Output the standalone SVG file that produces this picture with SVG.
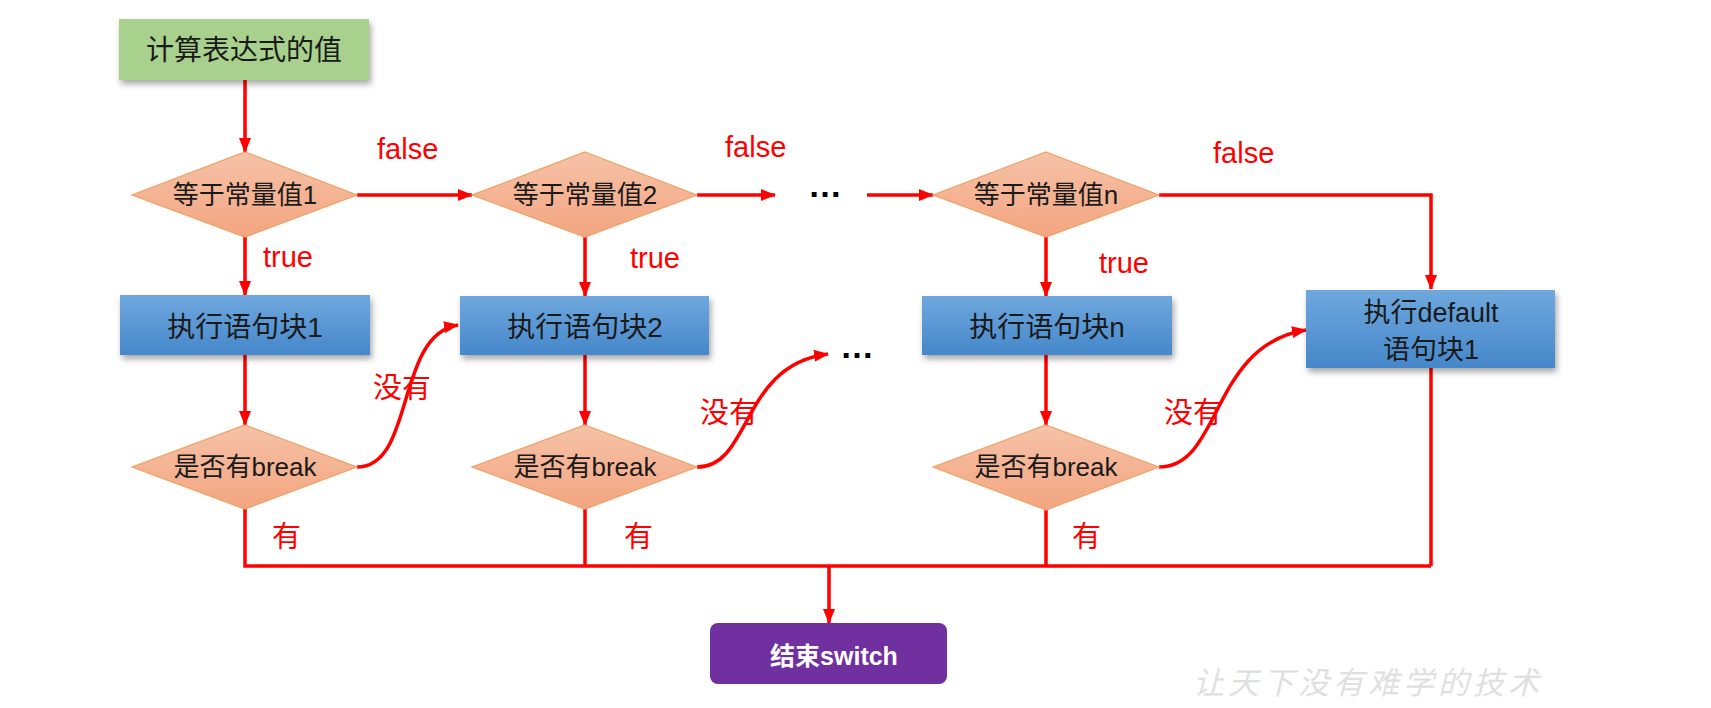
<svg xmlns="http://www.w3.org/2000/svg" width="1711" height="708" viewBox="0 0 1711 708">
<style>
.t{font-family:"Liberation Sans","Noto Sans CJK SC",sans-serif;fill:#1a1a1a;text-anchor:middle}
.lbl{font-family:"Liberation Sans","Noto Sans CJK SC",sans-serif;fill:#ff0000;font-size:29px}
.ln{fill:none;stroke:#ff0000;stroke-width:3.5}
.dia{fill:url(#gD);stroke:#f0a060;stroke-width:1.2}
.blk{fill:url(#gB);filter:url(#sh)}
.dots{font-family:"Liberation Sans",sans-serif;font-size:34px;font-weight:bold;fill:#000;text-anchor:middle}
</style>
<defs>
<linearGradient id="gD" x1="0" y1="0" x2="0" y2="1"><stop offset="0" stop-color="#f6c2a8"/><stop offset="1" stop-color="#f3a580"/></linearGradient>
<linearGradient id="gB" x1="0" y1="0" x2="0" y2="1"><stop offset="0" stop-color="#6fa8de"/><stop offset="1" stop-color="#4587ca"/></linearGradient>
<filter id="sh" x="-10%" y="-20%" width="125%" height="160%"><feDropShadow dx="2" dy="4" stdDeviation="3" flood-color="#000" flood-opacity="0.35"/></filter>
<marker id="ah" viewBox="0 0 15 12" refX="14" refY="6" markerWidth="15" markerHeight="12" markerUnits="userSpaceOnUse" orient="auto"><path d="M0,0 L15,6 L0,12 Z" fill="#ff0000"/></marker>
</defs>

<g id="connectors">
<path class="ln" d="M245,80 V152" marker-end="url(#ah)"/>
<path class="ln" d="M245,237 V295" marker-end="url(#ah)"/>
<path class="ln" d="M245,355 V425" marker-end="url(#ah)"/>
<path class="ln" d="M245,509 V566 H1431"/>
<path class="ln" d="M585,237 V296" marker-end="url(#ah)"/>
<path class="ln" d="M585,355 V425" marker-end="url(#ah)"/>
<path class="ln" d="M585,509 V566"/>
<path class="ln" d="M1046,237 V296" marker-end="url(#ah)"/>
<path class="ln" d="M1046,355 V425" marker-end="url(#ah)"/>
<path class="ln" d="M1046,510 V566"/>
<path class="ln" d="M1431,368 V566"/>
<path class="ln" d="M829,566 V623" marker-end="url(#ah)"/>
<path class="ln" d="M357,195 H472" marker-end="url(#ah)"/>
<path class="ln" d="M697,195 H775" marker-end="url(#ah)"/>
<path class="ln" d="M867,195 H933" marker-end="url(#ah)"/>
<path class="ln" d="M1159,195 H1431 V289" marker-end="url(#ah)"/>
<path class="ln" d="M357,467 C415,467 395,335 458,325" marker-end="url(#ah)"/>
<path class="ln" d="M697,467 C752,467 740,365 828,354" marker-end="url(#ah)"/>
<path class="ln" d="M1159,467 C1222,467 1210,345 1306,330" marker-end="url(#ah)"/>
<text class="lbl" x="377" y="159">false</text>
<text class="lbl" x="725" y="157">false</text>
<text class="lbl" x="1213" y="163">false</text>
<text class="lbl" x="263" y="267">true</text>
<text class="lbl" x="630" y="268">true</text>
<text class="lbl" x="1099" y="273">true</text>
<text class="lbl" x="373" y="398">没有</text>
<text class="lbl" x="700" y="423">没有</text>
<text class="lbl" x="1164" y="423">没有</text>
<text class="lbl" x="272" y="547">有</text>
<text class="lbl" x="624" y="547">有</text>
<text class="lbl" x="1072" y="547">有</text>
<text class="dots" x="825" y="197">…</text>
<text class="dots" x="857" y="358">…</text>
</g>

<g id="start">
<rect x="119" y="19" width="250" height="61" fill="#a9d18e" filter="url(#sh)"/>
<text class="t" x="244" y="60" font-size="28">计算表达式的值</text>
</g>

<g id="cond1">
<polygon class="dia" points="245,152 357,195 245,237 132,195"/>
<text class="t" x="245" y="204" font-size="26">等于常量值1</text>
</g>
<g id="cond2">
<polygon class="dia" points="585,152 697,195 585,237 472,195"/>
<text class="t" x="585" y="204" font-size="26">等于常量值2</text>
</g>
<g id="condn">
<polygon class="dia" points="1046,152 1159,195 1046,237 933,195"/>
<text class="t" x="1046" y="204" font-size="26">等于常量值n</text>
</g>

<g id="block1">
<rect class="blk" x="120" y="295" width="250" height="60"/>
<text class="t" x="245" y="337" font-size="28">执行语句块1</text>
</g>
<g id="block2">
<rect class="blk" x="460" y="296" width="249" height="59"/>
<text class="t" x="585" y="337" font-size="28">执行语句块2</text>
</g>
<g id="blockn">
<rect class="blk" x="922" y="296" width="250" height="59"/>
<text class="t" x="1047" y="337" font-size="28">执行语句块n</text>
</g>
<g id="blockdefault">
<rect class="blk" x="1306" y="290" width="249" height="78"/>
<text class="t" x="1431" y="322" font-size="27">执行default</text>
<text class="t" x="1431" y="359" font-size="27">语句块1</text>
</g>

<g id="break1">
<polygon class="dia" points="245,425 357,467 245,509 132,467"/>
<text class="t" x="245" y="476" font-size="26">是否有break</text>
</g>
<g id="break2">
<polygon class="dia" points="585,425 697,467 585,509 472,467"/>
<text class="t" x="585" y="476" font-size="26">是否有break</text>
</g>
<g id="breakn">
<polygon class="dia" points="1046,425 1159,467 1046,510 933,467"/>
<text class="t" x="1046" y="476" font-size="26">是否有break</text>
</g>

<g id="end">
<rect x="710" y="623" width="237" height="61" rx="8" fill="#7030a0"/>
<text class="t" x="834" y="665" font-size="25" font-weight="bold" style="fill:#fff">结束switch</text>
</g>

<text x="1193" y="694" font-family="'Noto Sans CJK SC',sans-serif" font-size="31" font-style="italic" fill="#e0e0e0" letter-spacing="4">让天下没有难学的技术</text>
</svg>
